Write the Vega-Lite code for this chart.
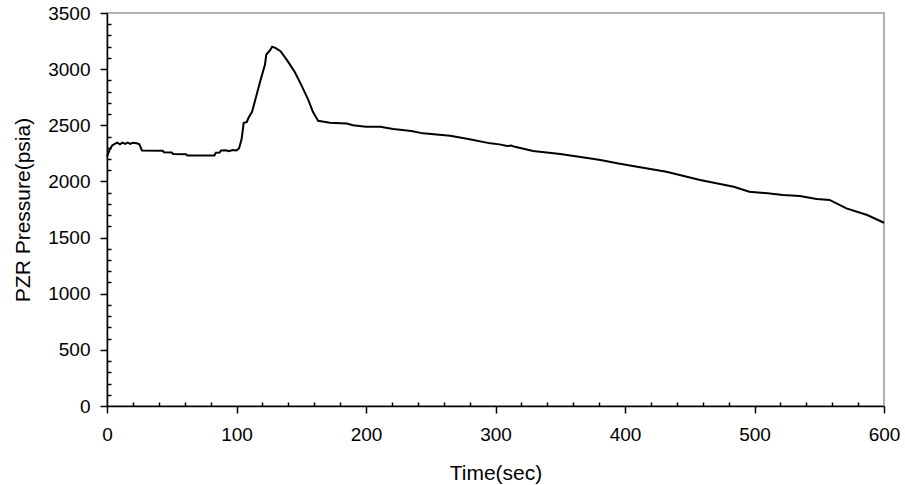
{
  "$schema": "https://vega.github.io/schema/vega-lite/v6.json",
  "width": 777,
  "height": 393,
  "autosize": "none",
  "padding": {"left": 107, "top": 13, "right": 21, "bottom": 79},
  "background": "white",
  "data": {
    "values": [
      {"t": 0, "p": 2220}, {"t": 2, "p": 2280}, {"t": 4, "p": 2320}, {"t": 6, "p": 2335},
      {"t": 8, "p": 2345}, {"t": 10, "p": 2330}, {"t": 12, "p": 2345}, {"t": 14, "p": 2335},
      {"t": 16, "p": 2345}, {"t": 18, "p": 2335}, {"t": 20, "p": 2345}, {"t": 23, "p": 2340},
      {"t": 25, "p": 2330}, {"t": 27, "p": 2275}, {"t": 43, "p": 2273}, {"t": 44, "p": 2260},
      {"t": 50, "p": 2258}, {"t": 51, "p": 2245}, {"t": 61, "p": 2243}, {"t": 62, "p": 2232},
      {"t": 83, "p": 2232}, {"t": 84, "p": 2256}, {"t": 87, "p": 2258}, {"t": 88, "p": 2275},
      {"t": 92, "p": 2278}, {"t": 94, "p": 2270}, {"t": 97, "p": 2280}, {"t": 100, "p": 2275},
      {"t": 102, "p": 2295}, {"t": 104, "p": 2380}, {"t": 105.5, "p": 2520}, {"t": 108, "p": 2530},
      {"t": 109, "p": 2560}, {"t": 112, "p": 2620}, {"t": 115.5, "p": 2770}, {"t": 118.5, "p": 2900},
      {"t": 122, "p": 3040}, {"t": 123, "p": 3130}, {"t": 126, "p": 3170}, {"t": 127.5, "p": 3200},
      {"t": 130, "p": 3190}, {"t": 134, "p": 3160}, {"t": 139, "p": 3080}, {"t": 145, "p": 2975},
      {"t": 150, "p": 2860}, {"t": 155.5, "p": 2725}, {"t": 159, "p": 2620}, {"t": 163, "p": 2540},
      {"t": 172, "p": 2523}, {"t": 185, "p": 2515}, {"t": 190, "p": 2500}, {"t": 200, "p": 2488},
      {"t": 211, "p": 2487}, {"t": 221, "p": 2467}, {"t": 235, "p": 2449}, {"t": 244, "p": 2428},
      {"t": 265, "p": 2407}, {"t": 280, "p": 2375}, {"t": 296, "p": 2339}, {"t": 303, "p": 2330},
      {"t": 309, "p": 2315}, {"t": 312, "p": 2320}, {"t": 315, "p": 2308}, {"t": 329, "p": 2271},
      {"t": 350, "p": 2244}, {"t": 376, "p": 2200}, {"t": 381, "p": 2191}, {"t": 394, "p": 2161},
      {"t": 406, "p": 2137}, {"t": 432, "p": 2087}, {"t": 458, "p": 2013}, {"t": 484, "p": 1953},
      {"t": 496, "p": 1908}, {"t": 505, "p": 1900}, {"t": 510, "p": 1895}, {"t": 522, "p": 1879},
      {"t": 535, "p": 1870}, {"t": 548, "p": 1843}, {"t": 558, "p": 1835}, {"t": 571, "p": 1760},
      {"t": 587, "p": 1701}, {"t": 600, "p": 1632}
    ]
  },
  "mark": {"type": "line", "color": "black", "strokeWidth": 2},
  "encoding": {
    "x": {
      "field": "t",
      "type": "quantitative",
      "scale": {"domain": [0, 600], "nice": false},
      "axis": {
        "values": [0, 20, 40, 60, 80, 100, 120, 140, 160, 180, 200, 220, 240, 260, 280, 300, 320, 340, 360, 380, 400, 420, 440, 460, 480, 500, 520, 540, 560, 580, 600],
        "labelExpr": "datum.value % 100 === 0 ? datum.value : ''",
        "ticks": true,
        "tickSize": {"condition": {"test": "datum.value % 100 === 0", "value": 7}, "value": -4},
        "title": "Time(sec)",
        "labelPadding": 12,
        "titlePadding": 18
      }
    },
    "y": {
      "field": "p",
      "type": "quantitative",
      "scale": {"domain": [0, 3500], "nice": false},
      "axis": {
        "values": [0, 100, 200, 300, 400, 500, 600, 700, 800, 900, 1000, 1100, 1200, 1300, 1400, 1500, 1600, 1700, 1800, 1900, 2000, 2100, 2200, 2300, 2400, 2500, 2600, 2700, 2800, 2900, 3000, 3100, 3200, 3300, 3400, 3500],
        "labelExpr": "datum.value % 500 === 0 ? datum.value : ''",
        "ticks": true,
        "tickSize": {"condition": {"test": "datum.value % 500 === 0", "value": 7}, "value": -4},
        "title": "PZR Pressure(psia)",
        "labelPadding": 10,
        "titlePadding": 14
      }
    }
  },
  "config": {
    "view": {"stroke": "#999", "strokeWidth": 1.5},
    "axis": {
      "grid": false,
      "tickColor": "black",
      "tickWidth": 1.5,
      "domainColor": "black",
      "domainWidth": 1.5,
      "labelFlush": false,
      "labelFont": "Liberation Sans",
      "titleFont": "Liberation Sans",
      "labelFontSize": 19,
      "titleFontSize": 21,
      "titleFontWeight": "normal",
      "labelColor": "black",
      "titleColor": "black"
    }
  }
}
